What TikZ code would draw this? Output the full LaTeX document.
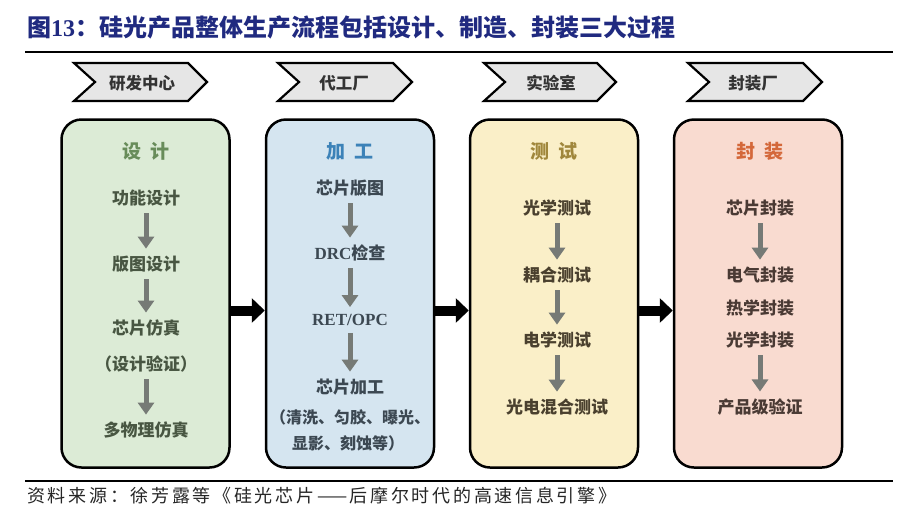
\documentclass[tikz,border=0pt]{standalone}
\usepackage{fontspec}
\setmainfont{Liberation Serif}
\newfontfamily\cjk{Noto Sans CJK SC}
\newfontfamily\cjksp[LetterSpace=15]{Noto Sans CJK SC}
\usetikzlibrary{arrows.meta,calc}
\newcommand\latn[1]{{\rmfamily\bfseries #1}}
\definecolor{titleblue}{RGB}{32,42,128}
\definecolor{chevfill}{RGB}{230,230,230}
\definecolor{gfill}{RGB}{220,235,214}
\definecolor{bfill}{RGB}{213,229,240}
\definecolor{yfill}{RGB}{250,239,200}
\definecolor{pfill}{RGB}{249,219,208}
\definecolor{gtitle}{RGB}{104,140,90}
\definecolor{btitle}{RGB}{60,130,184}
\definecolor{ytitle}{RGB}{160,135,60}
\definecolor{ptitle}{RGB}{212,104,58}
\definecolor{gtext}{RGB}{72,86,66}
\definecolor{btext}{RGB}{60,72,82}
\definecolor{ytext}{RGB}{74,64,46}
\definecolor{ptext}{RGB}{74,58,52}
\definecolor{arrowgray}{RGB}{118,122,118}
\begin{document}
\begin{tikzpicture}[x=1pt,y=-1pt,
  chevron/.style={draw=black, line width=2.2pt, fill=chevfill, line join=miter},
  chevtext/.style={font=\cjk\bfseries\fontsize{16.5}{16.5}\selectfont, text=black!80, inner sep=0},
  box/.style={draw=black, line width=2.5pt, rounded corners=20pt, minimum width=168pt, minimum height=348pt, inner sep=0},
  boxtitle/.style={font=\cjk\bfseries\fontsize{19}{19}\selectfont, inner sep=0},
  item/.style={font=\cjk\bfseries\fontsize{17}{17}\selectfont, inner sep=0},
  garrow/.style={draw=arrowgray, line width=5pt, -{Triangle[width=16pt,length=12pt]}, shorten <=7pt, shorten >=7pt},
  barrow/.style={draw=black, line width=10pt, -{Triangle[width=24pt,length=13pt]}}
]
\useasboundingbox[fill=white] (0,0) rectangle (904,512);

% title
\node[anchor=west, inner sep=0, text=titleblue, font=\cjk\bfseries\fontsize{24}{24}\selectfont] (title) at (27,27) {图\latn{13}：硅光产品整体生产流程包括设计、制造、封装三大过程};
\draw[line width=2.5pt] (25,52) -- (893,52);

% chevrons
\draw[chevron] (74,63) -- (188,63) -- (207,82) -- (188,101) -- (74,101) -- (95,82) -- cycle;
\draw[chevron] (278,63) -- (393,63) -- (412,82) -- (393,101) -- (278,101) -- (299,82) -- cycle;
\draw[chevron] (484,63) -- (597,63) -- (616,82) -- (597,101) -- (484,101) -- (505,82) -- cycle;
\draw[chevron] (688,63) -- (803,63) -- (822,82) -- (803,101) -- (688,101) -- (709,82) -- cycle;
\node[chevtext] (h1) at (142,83) {研发中心};
\node[chevtext] (h2) at (344,83) {代工厂};
\node[chevtext] (h3) at (551,83) {实验室};
\node[chevtext] (h4) at (753,83) {封装厂};

% boxes
\node[box, fill=gfill] (b1) at (145.5,293.5) {};
\node[box, fill=bfill] (b2) at (350,293.5) {};
\node[box, fill=yfill] (b3) at (554,293.5) {};
\node[box, fill=pfill] (b4) at (758,293.5) {};

% box 1
\node[boxtitle, text=gtitle] (t1) at (146,151) {设\hspace{0.5em}计};
\node[item, text=gtext] (g1) at (146,198) {功能设计};
\node[item, text=gtext] (g2) at (146,264) {版图设计};
\node[item, text=gtext] (g3) at (146,328) {芯片仿真};
\node[item, text=gtext] (g3b) at (146,364) {（设计验证）};
\node[item, text=gtext] (g4) at (146,430) {多物理仿真};
\draw[garrow] (g1) -- (g2);
\draw[garrow] (g2) -- (g3);
\draw[garrow] (g3b) -- (g4);

% box 2
\node[boxtitle, text=btitle] (t2) at (350,151) {加\hspace{0.5em}工};
\node[item, text=btext] (p1) at (350,188) {芯片版图};
\node[item, text=btext] (p2) at (350,253) {\latn{DRC}检查};
\node[item, text=btext] (p3) at (350,320) {\latn{RET/OPC}};
\node[item, text=btext] (p4) at (350,387) {芯片加工};
\node[item, text=btext, font=\cjk\bfseries\fontsize{16}{16}\selectfont] (p4b) at (350,417) {（清洗、匀胶、曝光、};
\node[item, text=btext, font=\cjk\bfseries\fontsize{16}{16}\selectfont] (p4c) at (348,443) {显影、刻蚀等）};
\draw[garrow] (p1) -- (p2);
\draw[garrow] (p2) -- (p3);
\draw[garrow] (p3) -- (p4);

% box 3
\node[boxtitle, text=ytitle] (t3) at (554,151) {测\hspace{0.5em}试};
\node[item, text=ytext] (y1) at (557,208) {光学测试};
\node[item, text=ytext] (y2) at (557,275) {耦合测试};
\node[item, text=ytext] (y3) at (557,340) {电学测试};
\node[item, text=ytext] (y4) at (557,407) {光电混合测试};
\draw[garrow] (y1) -- (y2);
\draw[garrow] (y2) -- (y3);
\draw[garrow] (y3) -- (y4);

% box 4
\node[boxtitle, text=ptitle] (t4) at (760,151) {封\hspace{0.5em}装};
\node[item, text=ptext] (k1) at (760,208) {芯片封装};
\node[item, text=ptext] (k2) at (760,275) {电气封装};
\node[item, text=ptext] (k3) at (760,308) {热学封装};
\node[item, text=ptext] (k4) at (760,340) {光学封装};
\node[item, text=ptext] (k5) at (760,407) {产品级验证};
\draw[garrow] (k1) -- (k2);
\draw[garrow] (k4) -- (k5);

% black arrows
\draw[barrow] ([yshift=-17pt]b1.east) -- ([yshift=-17pt]b2.west);
\draw[barrow] ([yshift=-17pt]b2.east) -- ([yshift=-17pt]b3.west);
\draw[barrow] ([yshift=-17pt]b3.east) -- ([yshift=-17pt]b4.west);

% footer
\draw[line width=2pt] (25,481) -- (893,481);
\node[anchor=west, inner sep=0, text=black!85, font=\cjksp\fontsize{18}{18}\selectfont] (src) at (27,496) {资料来源：徐芳露等《硅光芯片——后摩尔时代的高速信息引擎》};
\end{tikzpicture}
\end{document}
